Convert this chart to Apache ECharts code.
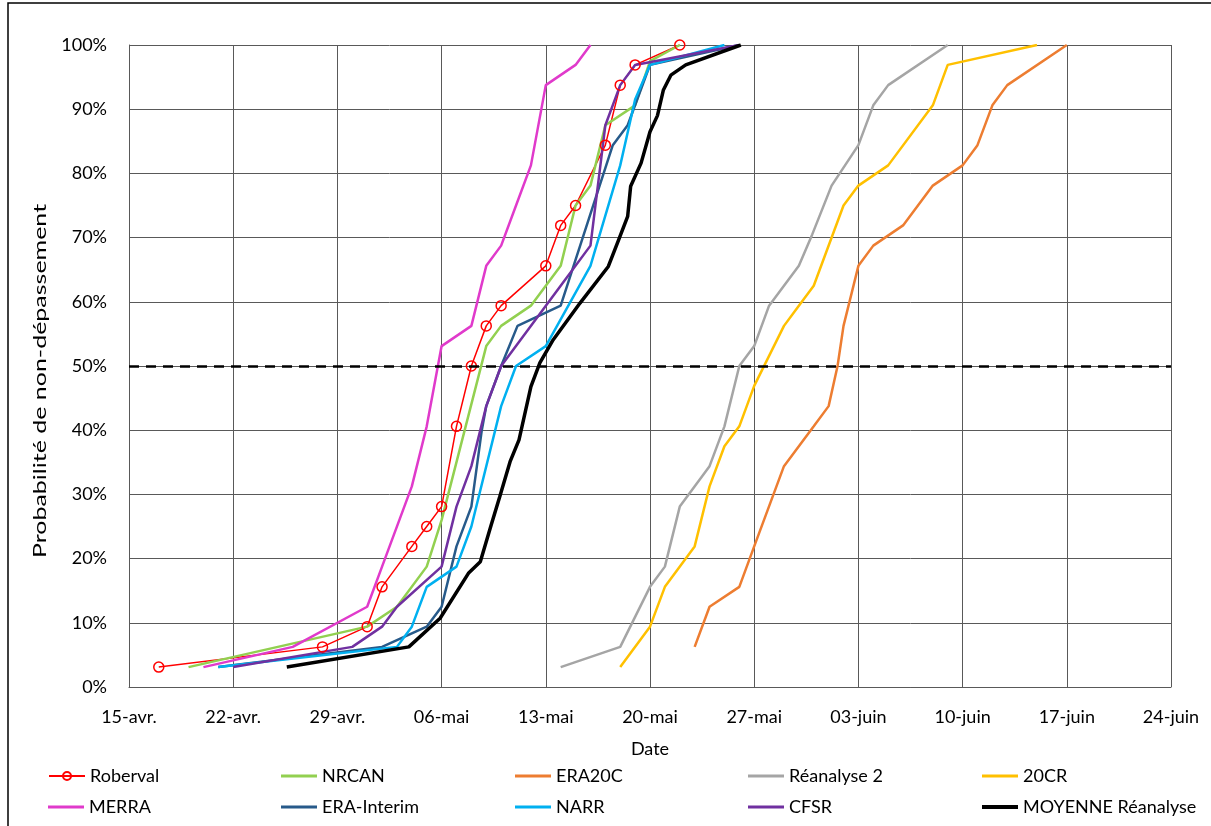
<!DOCTYPE html>
<html>
<head>
<meta charset="utf-8">
<title>Probabilité de non-dépassement</title>
<script src="https://cdn.jsdelivr.net/npm/echarts@6/dist/echarts.min.js"></script>
<style>
    html, body { margin: 0; padding: 0; background: #fff; }
    #chart { width: 1211px; height: 826px; }
</style>
</head>
<body>
<div id="chart"></div>
<script>
// axe des x : jours comptés depuis le 15 avril
var dateLabels = ['15-avr.', '22-avr.', '29-avr.', '06-mai', '13-mai', '20-mai', '27-mai', '03-juin', '10-juin', '17-juin', '24-juin'];

var robervalDays = [2, 13, 16, 17, 19, 20, 21, 22, 23, 24, 25, 28, 29, 30, 32, 33, 34, 37];
var robervalProb = [3.1, 6.25, 9.4, 15.6, 21.9, 25, 28.1, 40.6, 50, 56.25, 59.4, 65.6, 71.9, 75, 84.4, 93.75, 96.9, 100];

var nrcanDays = [4, 16, 18, 20, 21, 24, 25, 27, 29, 30, 31, 32, 34, 35, 37];
var nrcanProb = [3.1, 9.4, 12.5, 18.75, 26, 53.1, 56.25, 59.4, 65.6, 75, 78.1, 87.5, 90.6, 97.5, 100];

var era20cDays = [38, 39, 41, 42, 44, 46, 47, 47.6, 48, 49, 50, 52, 54, 56, 57, 58, 59, 63];
var era20cProb = [6.25, 12.5, 15.6, 21.9, 34.4, 40.6, 43.75, 50, 56.25, 65.6, 68.75, 71.9, 78.1, 81.25, 84.4, 90.6, 93.75, 100];

var rea2Days = [29, 33, 35, 36, 37, 39, 40, 41, 42, 43, 45, 45.9, 47.2, 49, 50, 51, 55];
var rea2Prob = [3.1, 6.25, 15.6, 18.75, 28.1, 34.4, 40.6, 50, 53.1, 59.4, 65.6, 70.5, 78.1, 84.4, 90.6, 93.75, 100];

var cr20Days = [33, 35, 36, 38, 39, 40, 41, 42, 44, 45, 46, 48, 49, 51, 54, 55, 61];
var cr20Prob = [3.1, 9.4, 15.6, 21.9, 31.25, 37.5, 40.6, 46.9, 56.25, 59.4, 62.5, 75, 78.1, 81.25, 90.6, 96.9, 100];

var merraDays = [5, 11, 16, 17, 19, 20, 21, 23, 24, 25, 26, 27, 28, 30, 31];
var merraProb = [3.1, 6.25, 12.5, 18.75, 31.25, 40.6, 53.1, 56.25, 65.6, 68.75, 75, 81.25, 93.75, 96.9, 100];

var eraIntDays = [6, 17, 20, 21, 22, 23, 23.7, 24, 25, 26.1, 29, 32.5, 33.5, 35, 41];
var eraIntProb = [3.1, 6.25, 9.4, 12.5, 21.9, 28.1, 40, 43.75, 50, 56.25, 59.4, 84.4, 87.5, 96.9, 100];

var narrDays = [6, 18, 19, 20, 22, 23, 25, 26, 28, 31, 33, 34, 35, 40];
var narrProb = [3.1, 6.25, 9.4, 15.6, 18.75, 25, 43.75, 50, 53.1, 65.6, 81.25, 91.5, 96.9, 100];

var cfsrDays = [7, 15, 17, 18, 21, 22, 23, 24, 25, 29, 31, 32, 33, 34, 41];
var cfsrProb = [3.1, 6.25, 9.4, 12.5, 18.75, 28.1, 34.4, 43.75, 50, 62.5, 68.75, 87.5, 93.75, 96.9, 100];

var moyDays = [10.6, 18.8, 20.9, 22.8, 23.6, 24.3, 24.9, 25.6, 26.2, 27, 27.6, 28.5, 30.3, 32.2, 32.9, 33.5, 33.7, 34.4, 35, 35.5, 35.9, 36.4, 37.4, 41.1];
var moyProb = [3.1, 6.25, 10.7, 17.7, 19.5, 25, 29.6, 35.1, 38.5, 46.8, 50.5, 54.1, 59.8, 65.5, 69.7, 73.3, 78, 81.6, 86.5, 89, 93, 95.3, 96.9, 100];

var fontName = 'Lato';

function pairs(days, prob) {
    return days.map(function (d, i) { return [d, prob[i]]; });
}

function ligne(name, days, prob, color, width) {
    return {
        name: name,
        type: 'line',
        data: pairs(days, prob),
        symbol: 'none',
        showSymbol: false,
        lineStyle: { color: color, width: width },
        itemStyle: { color: color }
    };
}

var series = [
    {
        name: 'Roberval',
        type: 'line',
        data: pairs(robervalDays, robervalProb),
        symbol: 'circle',
        symbolSize: 10,
        lineStyle: { color: '#ff0000', width: 1.5 },
        itemStyle: { color: 'rgba(255,255,255,0)', borderColor: '#ff0000', borderWidth: 1.5 }
    },
    ligne('NRCAN', nrcanDays, nrcanProb, '#92d050', 2.5),
    ligne('ERA20C', era20cDays, era20cProb, '#ed7d31', 2.5),
    ligne('Réanalyse 2', rea2Days, rea2Prob, '#a5a5a5', 2.5),
    ligne('20CR', cr20Days, cr20Prob, '#ffc000', 2.5),
    ligne('MERRA', merraDays, merraProb, '#e03acb', 2.5),
    ligne('ERA-Interim', eraIntDays, eraIntProb, '#275a8a', 2.5),
    ligne('NARR', narrDays, narrProb, '#00b0f0', 2.5),
    ligne('CFSR', cfsrDays, cfsrProb, '#7030a0', 2.5),
    ligne('MOYENNE Réanalyse', moyDays, moyProb, '#000000', 3.5)
];

// ligne pointillée à 50 %
series[9].markLine = {
    silent: true,
    symbol: ['none', 'none'],
    label: { show: false },
    lineStyle: { color: '#000', width: 2.5, type: [10, 7] },
    data: [{ yAxis: 50 }]
};

// légende : 2 rangées de 5 colonnes
var legendCols = [48, 281, 515, 748, 982];
var legendRows = [767, 798];
var legends = series.map(function (s, i) {
    var isRoberval = i === 0;
    return {
        data: [isRoberval ? s.name : { name: s.name, icon: 'rect' }],
        left: legendCols[i % 5],
        top: legendRows[Math.floor(i / 5)],
        itemWidth: 36,
        itemHeight: isRoberval ? 10 : (i === 9 ? 4 : 3),
        padding: 0,
        selectedMode: false,
        textStyle: { fontFamily: fontName, fontSize: 18, color: '#000' }
    };
});

var myChart = echarts.init(document.getElementById('chart'));
var option = {
    animation: false,
    backgroundColor: '#fff',
    grid: { left: 129, right: 40, top: 45, bottom: 139 },
    legend: legends,
    graphic: [
        {
            type: 'rect',
            shape: { x: 8, y: 3, width: 1260, height: 900 },
            style: { fill: 'none', stroke: '#000', lineWidth: 1.5 }
        },
        {
            // titre de l'axe des y, étiré comme dans l'original
            type: 'text',
            x: 41,
            y: 381,
            rotation: Math.PI / 2,
            scaleX: 1.47,
            style: {
                text: 'Probabilité de non-dépassement',
                fontFamily: fontName,
                fontSize: 17,
                fill: '#000',
                textAlign: 'center',
                textVerticalAlign: 'middle'
            }
        }
    ],
    xAxis: {
        type: 'value',
        min: 0,
        max: 70,
        interval: 7,
        name: 'Date',
        nameLocation: 'middle',
        nameGap: 53,
        nameTextStyle: { fontFamily: fontName, fontSize: 18, color: '#000' },
        axisLine: { show: true, lineStyle: { color: '#595959', width: 1 } },
        axisTick: { show: false },
        axisLabel: {
            margin: 21,
            fontFamily: fontName,
            fontSize: 18,
            color: '#000',
            formatter: function (v) { return dateLabels[Math.round(v / 7)]; }
        },
        splitLine: { show: true, lineStyle: { color: '#595959', width: 1 } }
    },
    yAxis: {
        type: 'value',
        min: 0,
        max: 100,
        interval: 10,
        axisLine: { show: true, lineStyle: { color: '#595959', width: 1 } },
        axisTick: { show: false },
        axisLabel: {
            margin: 22,
            fontFamily: fontName,
            fontSize: 18,
            color: '#000',
            formatter: '{value}%'
        },
        splitLine: { show: true, lineStyle: { color: '#595959', width: 1 } }
    },
    series: series
};
myChart.setOption(option);
</script>
</body>
</html>
